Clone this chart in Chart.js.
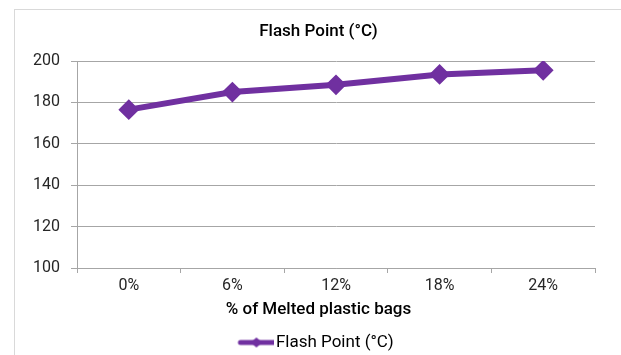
<!DOCTYPE html>
<html>
<head>
<meta charset="utf-8">
<script src="https://cdn.jsdelivr.net/npm/chart.js@4/dist/chart.umd.min.js"></script>
<style>
  html, body { margin: 0; padding: 0; background: #ffffff; }
  #wrap { position: relative; width: 621px; height: 355px; }
</style>
</head>
<body>
<div id="wrap"><canvas id="chart" width="621" height="355"></canvas></div>
<script>
// Flash point of the blend versus share of melted plastic bags
const categories = ['0%', '6%', '12%', '18%', '24%'];
const flashPoint = [176.5, 185, 188.5, 193.5, 195.5];
const yTickMin = 100;
const yTickMax = 200;
const yTickStep = 20;

const seriesName = 'Flash Point (°C)';
const xAxisName = '% of Melted plastic bags';
const purple = '#7030A0';
const textColor = '#262626';
const gridColor = '#a6a6a6';

// Legend marker: a short line with a diamond in the middle
function legendMarker() {
  const c = document.createElement('canvas');
  c.width = 38; c.height = 14;
  const g = c.getContext('2d');
  g.strokeStyle = purple;
  g.lineWidth = 5;
  g.lineCap = 'round';
  g.beginPath(); g.moveTo(4, 7); g.lineTo(40, 7); g.stroke();
  g.fillStyle = purple;
  g.beginPath();
  g.moveTo(20, 2); g.lineTo(26, 7); g.lineTo(20, 12); g.lineTo(14, 7);
  g.closePath(); g.fill();
  return c;
}
const marker = legendMarker();

// Thin grey frame around the chart
const frame = {
  id: 'frame',
  beforeDraw(chart) {
    const ctx = chart.ctx;
    ctx.save();
    ctx.fillStyle = '#ffffff';
    ctx.fillRect(0, 0, chart.width, chart.height);
    ctx.strokeStyle = '#d9d9d9';
    ctx.lineWidth = 1;
    ctx.strokeRect(14.5, 9.5, 700, 400);
    ctx.restore();
  }
};

Chart.defaults.font.family = 'Roboto, "Noto Sans", sans-serif';
Chart.defaults.color = textColor;

new Chart(document.getElementById('chart'), {
  type: 'line',
  data: {
    labels: categories,
    datasets: [{
      label: seriesName,
      data: flashPoint,
      borderColor: purple,
      backgroundColor: purple,
      borderWidth: 6,
      pointStyle: 'rectRot',
      pointRadius: 9,
      pointHoverRadius: 9,
      pointBorderWidth: 2,
      pointBackgroundColor: purple,
      pointBorderColor: purple,
      tension: 0,
      fill: false,
      yAxisID: 'y'
    }]
  },
  options: {
    responsive: false,
    animation: false,
    events: [],
    layout: { padding: { left: 16, right: 0, top: 0, bottom: -6 } },
    plugins: {
      tooltip: { enabled: false },
      title: {
        display: true,
        text: seriesName,
        color: '#000000',
        font: { size: 17, weight: '500' },
        padding: { top: 22, bottom: 18.6 }
      },
      legend: {
        display: true,
        position: 'bottom',
        title: {
          display: true,
          text: xAxisName,
          color: '#000000',
          font: { size: 17, weight: '500' },
          padding: { top: 8, bottom: 6 }
        },
        labels: {
          color: textColor,
          font: { size: 17 },
          usePointStyle: true,
          pointStyleWidth: 24,
          padding: 6,
          generateLabels() {
            return [{
              text: seriesName,
              pointStyle: marker,
              fillStyle: purple,
              strokeStyle: purple,
              lineWidth: 0,
              hidden: false,
              datasetIndex: 0
            }];
          }
        }
      }
    },
    scales: {
      x: {
        type: 'category',
        offset: true,
        grid: {
          offset: true,
          drawOnChartArea: false,
          drawTicks: true,
          tickLength: 5,
          color: gridColor
        },
        border: { display: true, color: gridColor, width: 1 },
        ticks: { color: textColor, font: { size: 16 }, padding: 3, maxRotation: 0 },
        afterFit(scale) { scale.height = 25.6; }
      },
      y: {
        position: 'left',
        min: yTickMin,
        max: yTickMax,
        grid: {
          color: gridColor,
          drawTicks: true,
          tickLength: 6
        },
        border: { display: true, color: gridColor, width: 1 },
        ticks: {
          stepSize: yTickStep,
          color: textColor,
          font: { size: 16 },
          padding: 11
        },
        afterFit(scale) { scale.width = 61; }
      },
      // empty right-hand margin beside the plot
      yRight: {
        position: 'right',
        display: true,
        min: yTickMin,
        max: yTickMax,
        grid: { display: false, drawTicks: false },
        border: { display: false },
        ticks: { display: false },
        afterFit(scale) { scale.width = 26; }
      }
    }
  },
  plugins: [frame]
});
</script>
</body>
</html>
